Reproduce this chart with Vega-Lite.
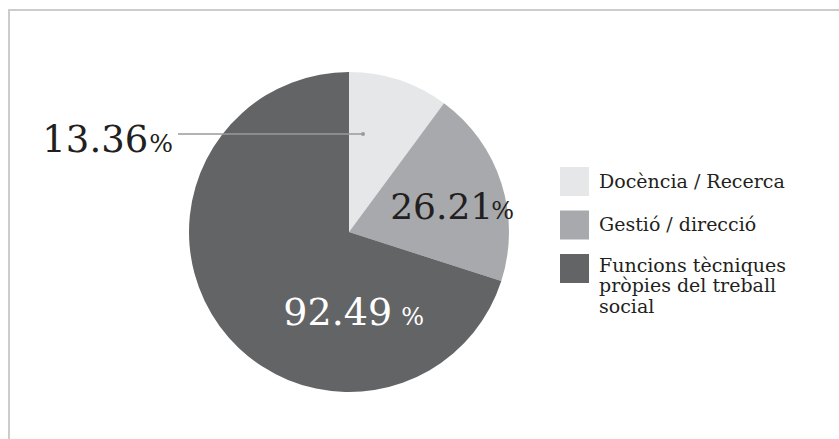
{
  "$schema": "https://vega.github.io/schema/vega-lite/v6.json",
  "width": 830,
  "height": 429,
  "autosize": {"type": "none"},
  "padding": {"left": 9, "top": 10, "right": 0, "bottom": 0},
  "background": "#ffffff",
  "config": {
    "view": {"stroke": "#cccccc", "strokeWidth": 2, "strokeDash": [830, 1259, 429]},
    "font": "DejaVu Serif"
  },
  "data": {
    "values": [
      {"category": "Docència / Recerca", "value": 13.36},
      {"category": "Gestió / direcció", "value": 26.21},
      {"category": "Funcions tècniques pròpies del treball social", "value": 92.49}
    ]
  },
  "encoding": {
    "theta": {"field": "value", "type": "quantitative", "stack": true},
    "order": {"field": "value", "type": "quantitative", "sort": "ascending"}
  },
  "layer": [
    {
      "mark": {"type": "arc", "x": 340, "y": 222, "outerRadius": 160},
      "encoding": {
        "color": {
          "field": "category",
          "type": "nominal",
          "scale": {
            "domain": ["Docència / Recerca", "Gestió / direcció", "Funcions tècniques pròpies del treball social"],
            "range": ["#e6e7e8", "#a7a9ac", "#636466"]
          },
          "legend": {
            "orient": "none",
            "legendX": 551,
            "legendY": 157,
            "title": null,
            "padding": 0,
            "symbolType": "square",
            "symbolSize": 841,
            "symbolStrokeWidth": 0,
            "symbolOpacity": 1,
            "labelFont": "DejaVu Serif",
            "labelFontSize": 19,
            "labelColor": "#231f20",
            "labelOffset": 10,
            "labelLimit": 400,
            "rowPadding": 14.5,
            "labelExpr": "datum.label === 'Funcions tècniques pròpies del treball social' ? ['Funcions tècniques', 'pròpies del treball', 'social'] : datum.label",
            "encode": {
              "labels": {
                "update": {
                  "baseline": {"signal": "datum.value === 'Funcions tècniques pròpies del treball social' ? 'alphabetic' : 'middle'"},
                  "dy": {"signal": "datum.value === 'Funcions tècniques pròpies del treball social' ? 3 : 0"},
                  "lineHeight": {"value": 20.5}
                }
              }
            }
          }
        }
      }
    },
    {
      "mark": {"type": "text", "x": 340, "y": 222, "radius": 140, "dx": 11, "dy": 30, "align": "right", "baseline": "alphabetic", "fontSize": 36, "font": "DejaVu Serif", "color": "#231f20"},
      "encoding": {
        "text": {"condition": {"test": "datum.category === 'Gestió / direcció'", "field": "value", "format": ".2f"}, "value": ""}
      }
    },
    {
      "mark": {"type": "text", "x": 340, "y": 222, "radius": 140, "dx": 9, "dy": 30, "align": "left", "baseline": "alphabetic", "fontSize": 24, "font": "DejaVu Serif", "color": "#231f20"},
      "encoding": {
        "text": {"condition": {"test": "datum.category === 'Gestió / direcció'", "value": "%"}, "value": ""}
      }
    },
    {
      "mark": {"type": "text", "x": 340, "y": 222, "radius": 100, "dx": 124, "dy": 34, "align": "right", "baseline": "alphabetic", "fontSize": 38, "font": "DejaVu Serif", "color": "#ffffff"},
      "encoding": {
        "text": {"condition": {"test": "datum.category === 'Funcions tècniques pròpies del treball social'", "field": "value", "format": ".2f"}, "value": ""}
      }
    },
    {
      "mark": {"type": "text", "x": 340, "y": 222, "radius": 100, "dx": 133, "dy": 34, "align": "left", "baseline": "alphabetic", "fontSize": 24, "font": "DejaVu Serif", "color": "#ffffff"},
      "encoding": {
        "text": {"condition": {"test": "datum.category === 'Funcions tècniques pròpies del treball social'", "value": "%"}, "value": ""}
      }
    },
    {
      "mark": {"type": "text", "x": 340, "y": 222, "radius": 100, "dx": -232, "dy": 15, "align": "right", "baseline": "alphabetic", "fontSize": 37, "font": "DejaVu Serif", "color": "#231f20"},
      "encoding": {
        "text": {"condition": {"test": "datum.category === 'Docència / Recerca'", "field": "value", "format": ".2f"}, "value": ""}
      }
    },
    {
      "mark": {"type": "text", "x": 340, "y": 222, "radius": 100, "dx": -231, "dy": 15, "align": "left", "baseline": "alphabetic", "fontSize": 25, "font": "DejaVu Serif", "color": "#231f20"},
      "encoding": {
        "text": {"condition": {"test": "datum.category === 'Docència / Recerca'", "value": "%"}, "value": ""}
      }
    },
    {
      "transform": [{"filter": "datum.category === 'Docència / Recerca'"}],
      "mark": {"type": "rule", "color": "#9a9a9a", "strokeWidth": 1.5},
      "encoding": {
        "x": {"value": 169},
        "x2": {"value": 354},
        "y": {"value": 124},
        "theta": null,
        "order": null
      }
    },
    {
      "transform": [{"filter": "datum.category === 'Docència / Recerca'"}],
      "mark": {"type": "point", "filled": true, "size": 16, "color": "#9a9a9a", "opacity": 1},
      "encoding": {
        "x": {"value": 354},
        "y": {"value": 124},
        "theta": null,
        "order": null
      }
    }
  ]
}
